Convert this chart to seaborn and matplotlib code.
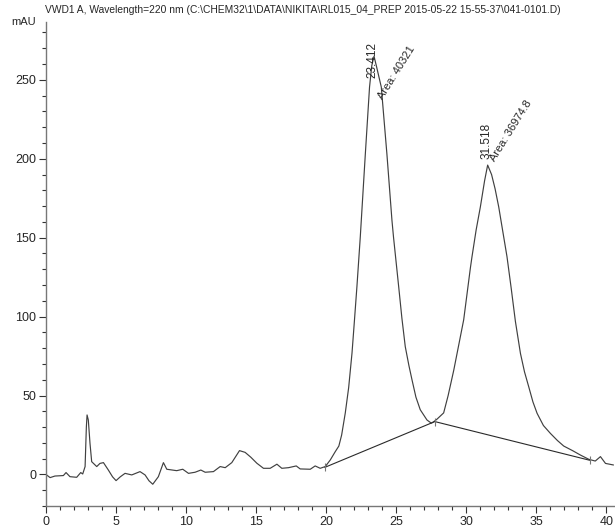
import numpy as np
import pandas as pd
import matplotlib
matplotlib.use("Agg")
import matplotlib.pyplot as plt
import seaborn as sns
from matplotlib.ticker import MultipleLocator

title = r"VWD1 A, Wavelength=220 nm (C:\CHEM32\1\DATA\NIKITA\RL015_04_PREP 2015-05-22 15-55-37\041-0101.D)"

time_min = [0.0, 0.29, 0.64, 1.24, 1.43, 1.71, 2.19, 2.48, 2.62, 2.79, 2.88, 2.93, 3.02, 3.14, 3.26,
            3.62, 3.85, 4.10, 4.45, 4.75, 5.0, 5.3, 5.64, 6.12, 6.71, 7.07, 7.35, 7.62, 8.02, 8.38,
            8.62, 9.33, 9.76, 10.17, 10.64, 11.05, 11.36, 11.95, 12.43, 12.79, 13.26, 13.81, 14.21,
            14.62, 15.05, 15.52, 16.0, 16.48, 16.83, 17.31, 17.86, 18.14, 18.86, 19.21, 19.57, 19.93,
            20.29, 20.64, 20.9, 21.1, 21.36, 21.6, 21.84, 22.0, 22.19, 22.43, 22.79, 23.09, 23.25,
            23.41, 23.6, 23.93, 24.33, 24.69, 24.8, 25.17, 25.4, 25.64, 25.9, 26.12, 26.4, 26.71,
            27.19, 27.5, 27.67, 27.9, 28.38, 28.7, 29.1, 29.5, 29.81, 30.29, 30.4, 30.7, 31.0, 31.3,
            31.52, 31.8, 32.05, 32.31, 32.6, 32.9, 33.2, 33.5, 33.86, 34.15, 34.45, 34.75, 35.05, 35.5,
            36.0, 36.5, 36.95, 37.6, 38.14, 38.74, 39.2, 39.57, 39.93, 40.5]
signal_mau = [0.0, -2.0, -1.0, -0.7, 1.2, -1.4, -1.8, 1.2, 0.3, 5.0, 30.0, 37.7, 34.5, 19.7, 8.1,
              5.0, 7.0, 7.5, 2.8, -1.5, -3.9, -1.5, 0.7, -0.3, 1.8, -0.3, -4.0, -6.2, -1.4, 7.5,
              3.3, 2.4, 3.3, 0.7, 1.4, 2.8, 1.4, 1.8, 5.0, 4.3, 7.5, 15.1, 14.0,
              10.9, 7.1, 3.9, 3.9, 6.5, 3.9, 4.3, 5.4, 3.5, 3.3, 5.4, 3.9, 5.0,
              9.2, 14.4, 18.0, 25.0, 39.0, 55.0, 77.0, 96.0, 119.0, 150.5, 203.0, 245.4, 259.0,
              265.0, 258.0, 245.4, 203.0, 161.0, 150.5, 119.0, 99.0, 81.0, 69.0, 60.0, 49.0, 41.0,
              34.5, 32.5, 33.4, 35.0, 39.0, 50.0, 66.0, 84.0, 98.0, 131.0, 137.8, 155.0, 169.5, 186.0,
              196.0, 190.0, 181.0, 169.5, 154.0, 138.0, 118.0, 97.0, 76.7, 65.0, 55.6, 46.0, 38.7, 31.0,
              26.0, 21.5, 18.0, 15.0, 12.3, 9.6, 8.5, 11.3, 7.0, 6.0]

baseline_t = [19.9, 27.75, 38.8]
baseline_v = [4.5, 33.5, 9.0]

peak_rt = [23.412, 31.518]
peak_label_pos = [251.0, 200.0]
peak_area = ["Area: 40321", "Area: 36974.8"]
area_label_t = [23.86, 31.86]
area_label_v = [238.0, 199.0]

sns.set_style("ticks")
plt.rcParams['font.family'] = ['Liberation Sans Narrow', 'Liberation Sans', 'DejaVu Sans']

fig = plt.figure(figsize=(6.15, 5.27), dpi=100)
ax = fig.add_axes([0.0748, 0.0398, 0.925, 0.918])

df = pd.DataFrame({"t": time_min, "v": signal_mau})
sns.lineplot(data=df, x="t", y="v", ax=ax, color="#404040", linewidth=0.85, sort=False)
ax.plot(baseline_t, baseline_v, color="#2a2a2a", linewidth=0.8)
ax.plot(baseline_t, baseline_v, linestyle="none", marker="|", markersize=6,
        color="#777777", markeredgewidth=0.8)

for rt, yl in zip(peak_rt, peak_label_pos):
    ax.text(rt - 0.1, yl, f"{rt:.3f}", rotation=90, ha="center", va="bottom", fontsize=8.5)
for lab, tx, ty in zip(peak_area, area_label_t, area_label_v):
    ax.text(tx, ty, lab, rotation=58, rotation_mode="anchor", ha="left", va="center",
            fontsize=8)

ax.set_xlim(0, 40.6)
ax.set_ylim(-20, 286.5)
ax.xaxis.set_major_locator(MultipleLocator(5))
ax.xaxis.set_minor_locator(MultipleLocator(1))
ax.yaxis.set_major_locator(MultipleLocator(50))
ax.yaxis.set_minor_locator(MultipleLocator(10))
ax.tick_params(axis="both", which="major", length=5, width=0.8, labelsize=9, color="#333333", pad=2)
ax.tick_params(axis="both", which="minor", length=3, width=0.8, color="#333333")
ax.set_yticks([0, 50, 100, 150, 200, 250])
ax.set_xlabel("")
ax.set_ylabel("")
for s in ["top", "right"]:
    ax.spines[s].set_visible(False)
for s in ["left", "bottom"]:
    ax.spines[s].set_color("#777777")
    ax.spines[s].set_linewidth(1.0)

fig.text(0.073, 0.981, title, fontsize=7.4, ha="left", va="center")
fig.text(0.018, 0.958, "mAU", fontsize=8, ha="left", va="center")

fig.savefig("out.png", dpi=100)
